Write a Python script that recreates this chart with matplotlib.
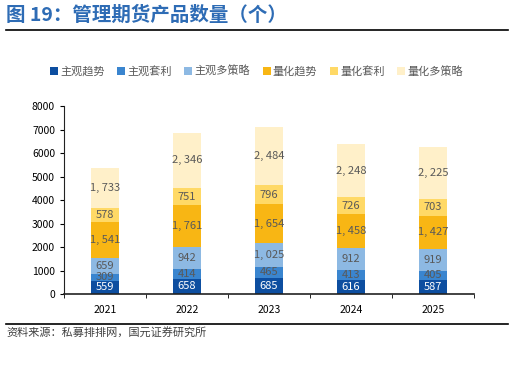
import matplotlib.pyplot as plt
import numpy as np

plt.rcParams['font.family'] = ['Noto Sans CJK SC', 'DejaVu Sans']

years = ['2021', '2022', '2023', '2024', '2025']
series_names = ['主观趋势', '主观套利', '主观多策略', '量化趋势', '量化套利', '量化多策略']
zg_trend = [559, 658, 685, 616, 587]
zg_arb = [309, 414, 465, 413, 405]
zg_multi = [659, 942, 1025, 912, 919]
lh_trend = [1541, 1761, 1654, 1458, 1427]
lh_arb = [578, 751, 796, 726, 703]
lh_multi = [1733, 2346, 2484, 2248, 2225]
colors = ['#0D4EA0', '#3A85CF', '#8DB9E3', '#F8B614', '#FFD966', '#FFF0C9']

fig = plt.figure(figsize=(5.13, 3.71), dpi=100)
ax = fig.add_axes([0.125, 0.2075, 0.799, 0.5065])

x = np.arange(len(years))
bottom = np.zeros(len(years))
all_series = [zg_trend, zg_arb, zg_multi, lh_trend, lh_arb, lh_multi]
for i, (name, vals) in enumerate(zip(series_names, all_series)):
    vals = np.array(vals)
    ax.bar(x, vals, 0.34, bottom=bottom, color=colors[i], label=name)
    for xi, b, v in zip(x, bottom, vals):
        txt = '{:,}'.format(v).replace(',', ', ')
        ax.text(xi, b + v / 2, txt, ha='center', va='center', fontsize=8,
                color='white' if i == 0 else '#595959')
    bottom += vals

ax.set_xlim(-0.5, 4.5)
ax.set_ylim(0, 8000)
ax.set_yticks(range(0, 8001, 1000))
ax.tick_params(axis='y', labelsize=7.5, length=3, colors='black')
ax.set_xticks(x)
ax.set_xticklabels(years, fontsize=7.5)
ax.tick_params(axis='x', length=0, pad=8)
ax.set_xticks(np.arange(-0.5, 5, 1), minor=True)
ax.tick_params(axis='x', which='minor', length=3, direction='out')
for s in ['top', 'right']:
    ax.spines[s].set_visible(False)
ax.spines['left'].set_color('#222222')
ax.spines['bottom'].set_color('#222222')
ax.spines['bottom'].set_linewidth(1.2)

fig.legend(loc='center', bbox_to_anchor=(0.5, 0.808), ncol=6, frameon=False,
           fontsize=8, handlelength=0.7, handleheight=0.7, handletextpad=0.2,
           columnspacing=1.15, labelcolor='#595959')

fig.text(0.012, 0.958, '图 19：管理期货产品数量（个）', fontsize=14, fontweight='bold',
         color='#2E6CB5', va='center')
fig.add_artist(plt.Line2D([0.012, 0.99], [0.918, 0.918], color='black', lw=1.2))
fig.add_artist(plt.Line2D([0.012, 0.99], [0.128, 0.128], color='black', lw=1.2))
fig.text(0.012, 0.105, '资料来源：私募排排网，国元证券研究所', fontsize=8,
         color='#404040', va='center')

fig.savefig('out.png', dpi=100)
